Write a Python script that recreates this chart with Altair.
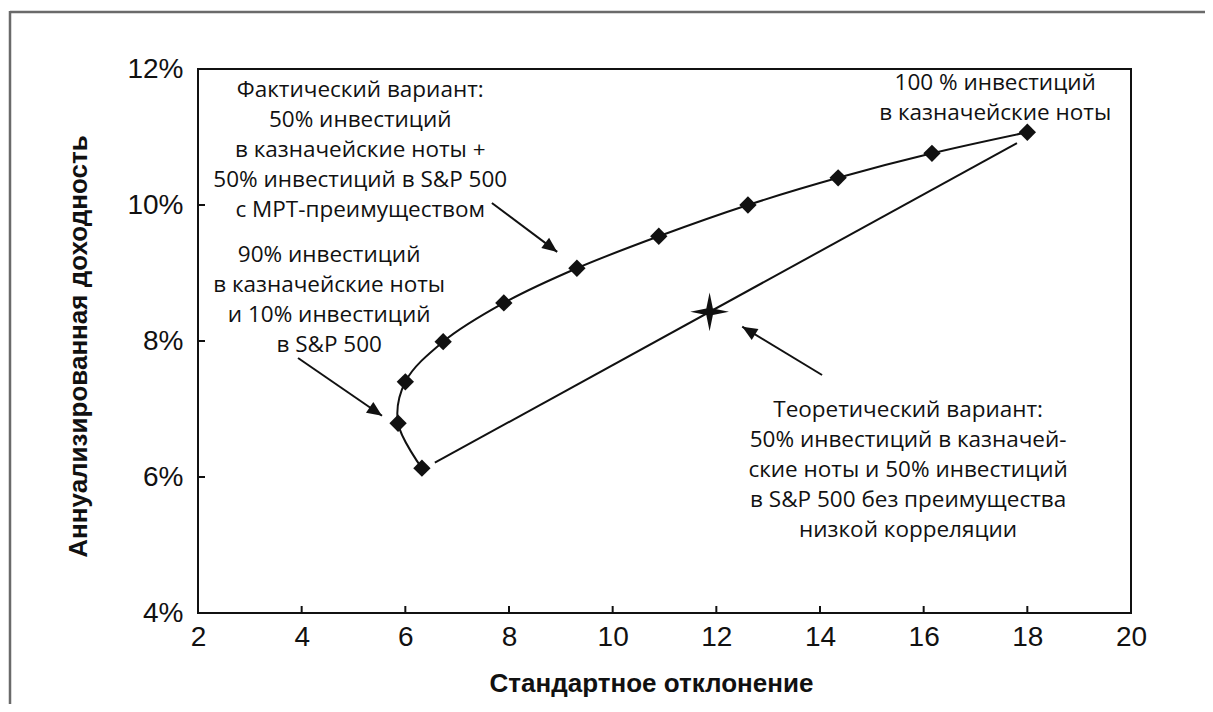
import math
import altair as alt
import pandas as pd

# ---- data ----
sd_curve = [6.32, 5.86, 6.00, 6.73, 7.90, 9.31, 10.89, 12.61, 14.35, 16.16, 18.00]
ret_curve = [6.13, 6.79, 7.40, 7.99, 8.56, 9.07, 9.54, 10.00, 10.40, 10.76, 11.07]

line_sd = [6.57, 17.80]
line_ret = [6.21, 10.91]

star_sd = [11.87]
star_ret = [8.43]

arrow_tail_x = [7.67, 3.93, 14.04]
arrow_tail_y = [10.03, 7.75, 7.50]
arrow_tip_x = [8.93, 5.55, 12.50]
arrow_tip_y = [9.31, 6.90, 8.21]

notes = [
    "Фактический вариант:\n50% инвестиций\nв казначейские ноты +\n50% инвестиций в S&P 500\nс MPT-преимуществом",
    "90% инвестиций\nв казначейские ноты\nи 10% инвестиций\nв S&P 500",
    "Теоретический вариант:\n50% инвестиций в казначей-\nские ноты и 50% инвестиций\nв S&P 500 без преимущества\nнизкой корреляции",
    "100 % инвестиций\nв казначейские ноты",
]
note_x = [5.13, 4.53, 15.70, 17.38]
note_y = [11.69, 9.26, 6.99, 11.79]

x_ticks = [2, 4, 6, 8, 10, 12, 14, 16, 18, 20]
y_ticks = [4, 6, 8, 10, 12]

# ---- layout ----
W, H = 933, 544
X_DOM, Y_DOM = [2, 20], [4, 12]
px_x = W / (X_DOM[1] - X_DOM[0])
px_y = H / (Y_DOM[1] - Y_DOM[0])

curve_df = pd.DataFrame({"sd": sd_curve, "ret": ret_curve, "i": list(range(len(sd_curve)))})
line_df = pd.DataFrame({"sd": line_sd, "ret": line_ret})
star_df = pd.DataFrame({"sd": star_sd, "ret": star_ret})

angles = []
for tx, ty, hx, hy in zip(arrow_tail_x, arrow_tail_y, arrow_tip_x, arrow_tip_y):
    dx = (hx - tx) * px_x
    dy = -(hy - ty) * px_y
    angles.append(math.degrees(math.atan2(dx, -dy)) % 360)
arrow_df = pd.DataFrame({"x": arrow_tail_x, "y": arrow_tail_y, "x2": arrow_tip_x,
                         "y2": arrow_tip_y, "angle": angles})
note_df = pd.DataFrame({"x": note_x, "y": note_y, "t": notes})
xt_df = pd.DataFrame({"v": x_ticks[1:-1]})
yt_df = pd.DataFrame({"v": y_ticks[1:-1]})

INK = "#111111"
xs = alt.Scale(domain=X_DOM, nice=False, zero=False)
ys = alt.Scale(domain=Y_DOM, nice=False, zero=False)

x_axis = alt.Axis(values=x_ticks, ticks=False, domain=False, grid=False,
                  labelFont="Liberation Sans", labelFontSize=28, labelColor=INK,
                  labelPadding=10, title="Стандартное отклонение",
                  titleFont="Liberation Sans", titleFontSize=26, titleFontWeight="bold",
                  titleColor=INK, titleX=453, titleY=70, titleBaseline="middle",
                  titleAlign="center", labelFlush=False)
y_axis = alt.Axis(values=y_ticks, ticks=False, domain=False, grid=False,
                  labelExpr="datum.value + '%'",
                  labelFont="Liberation Sans", labelFontSize=28, labelColor=INK,
                  labelPadding=15, title="Аннуализированная доходность",
                  titleFont="Liberation Sans", titleFontSize=26, titleFontWeight="bold",
                  titleColor=INK, titleX=-120, titleY=H / 2 + 5, titleAngle=270,
                  titleAlign="center", titleBaseline="middle", labelFlush=False)

base = alt.Chart(curve_df)

one = pd.DataFrame({"a": [0]})
border_top = alt.Chart(one).mark_rule(stroke="#6a6a6a", strokeWidth=2.5, clip=False).encode(
    x=alt.value(-188), x2=alt.value(1300), y=alt.value(-57))
border_left = alt.Chart(one).mark_rule(stroke="#6a6a6a", strokeWidth=2.5, clip=False).encode(
    x=alt.value(-188), y=alt.value(-58), y2=alt.value(800))

curve = base.mark_line(color=INK, strokeWidth=2, interpolate="catmull-rom").encode(
    x=alt.X("sd:Q", scale=xs, axis=x_axis),
    y=alt.Y("ret:Q", scale=ys, axis=y_axis),
    order="i:O",
)
diamonds = base.mark_point(shape="diamond", filled=True, color=INK, size=300, opacity=1).encode(
    x=alt.X("sd:Q", scale=xs), y=alt.Y("ret:Q", scale=ys)
)
straight = alt.Chart(line_df).mark_line(color=INK, strokeWidth=2).encode(
    x=alt.X("sd:Q", scale=xs), y=alt.Y("ret:Q", scale=ys)
)
STAR = "M0,-1L0.17,-0.17L1,0L0.17,0.17L0,1L-0.17,0.17L-1,0L-0.17,-0.17Z"
star = alt.Chart(star_df).mark_point(shape=STAR, filled=True, color=INK, size=1500, opacity=1).encode(
    x=alt.X("sd:Q", scale=xs), y=alt.Y("ret:Q", scale=ys)
)
shafts = alt.Chart(arrow_df).mark_rule(color=INK, strokeWidth=2).encode(
    x=alt.X("x:Q", scale=xs), y=alt.Y("y:Q", scale=ys),
    x2="x2:Q", y2="y2:Q",
)
HEAD = "M0,0L0.65,1.5L-0.65,1.5Z"
heads = alt.Chart(arrow_df).mark_point(shape=HEAD, filled=True, color=INK, size=400, opacity=1).encode(
    x=alt.X("x2:Q", scale=xs), y=alt.Y("y2:Q", scale=ys), angle=alt.Angle("angle:Q", scale=None)
)
texts = alt.Chart(note_df).mark_text(
    font="Open Sans", fontSize=22.5, color=INK, lineBreak="\n", lineHeight=30,
    align="center", baseline="middle"
).encode(x=alt.X("x:Q", scale=xs), y=alt.Y("y:Q", scale=ys), text="t:N")

xticks = alt.Chart(xt_df).mark_rule(color=INK, strokeWidth=2).encode(
    x=alt.X("v:Q", scale=xs), y=alt.value(H), y2=alt.value(H - 7)
)
yticks = alt.Chart(yt_df).mark_rule(color=INK, strokeWidth=2).encode(
    y=alt.Y("v:Q", scale=ys), x=alt.value(0), x2=alt.value(7)
)

chart = alt.layer(border_top, border_left, curve, straight, diamonds, star, shafts, heads,
                  texts, xticks, yticks).properties(
    width=W, height=H,
    autosize="none",
    padding={"left": 190, "top": 61, "right": 74, "bottom": 91},
    background="white",
).configure_view(stroke=INK, strokeWidth=2)

chart.save("out.html", embed_options={"renderer": "svg", "actions": False})
